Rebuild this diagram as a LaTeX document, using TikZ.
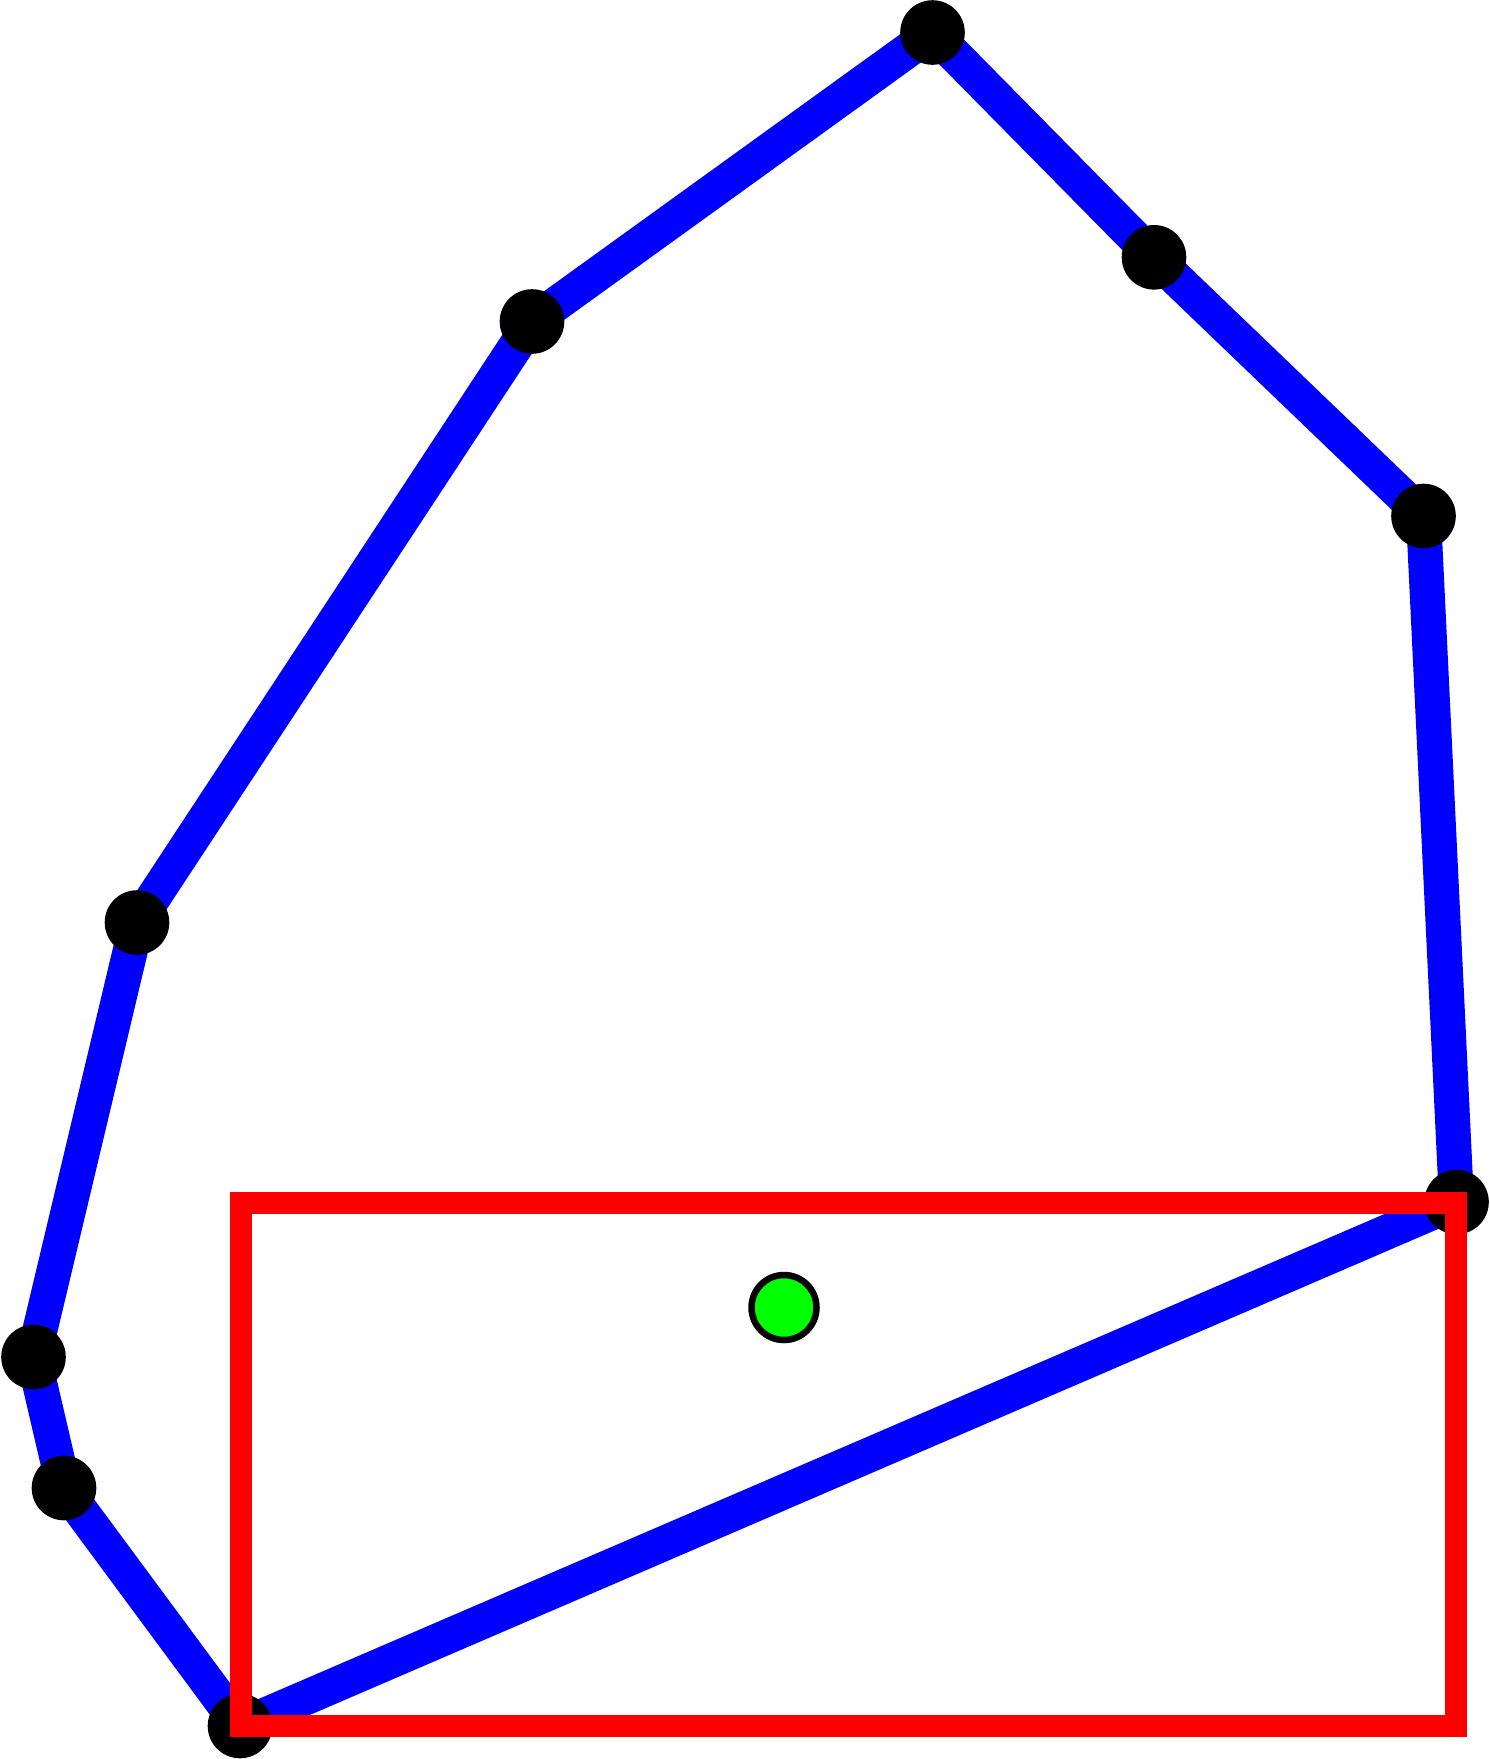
\documentclass[tikz,border=0pt]{standalone}
\begin{document}
\begin{tikzpicture}[x=1pt,y=-1pt,
  edge/.style={draw={rgb,255:red,0;green,0;blue,255},line width=35pt,line join=round},
  vdot/.style={circle,fill=black,inner sep=0pt,minimum size=64.6pt},
  frame/.style={draw={rgb,255:red,255;green,0;blue,0},line width=22pt},
  centre/.style={circle,fill={rgb,255:red,0;green,255;blue,0},draw=black,line width=6.5pt,inner sep=0pt,minimum size=65pt}]
\useasboundingbox (0,0) rectangle (1489,1759);
\coordinate (c1) at (932.5,32.5);
\coordinate (c2) at (1154,257.3);
\coordinate (c3) at (1423.5,516);
\coordinate (c4) at (1456.5,1202);
\coordinate (c5) at (240,1726);
\coordinate (c6) at (64,1488);
\coordinate (c7) at (33.5,1357);
\coordinate (c8) at (137,922.5);
\coordinate (c9) at (532,321.5);
\path[edge] (c1) -- (c2) -- (c3) -- (c4) -- (c5) -- (c6) -- (c7) -- (c8) -- (c9) -- cycle;
\foreach \i in {1,...,9} { \node[vdot] (p\i) at (c\i) {}; }
\draw[frame] (241,1203) rectangle (1456,1726);
\node[centre] (g) at (784,1307.5) {};
\end{tikzpicture}
\end{document}
